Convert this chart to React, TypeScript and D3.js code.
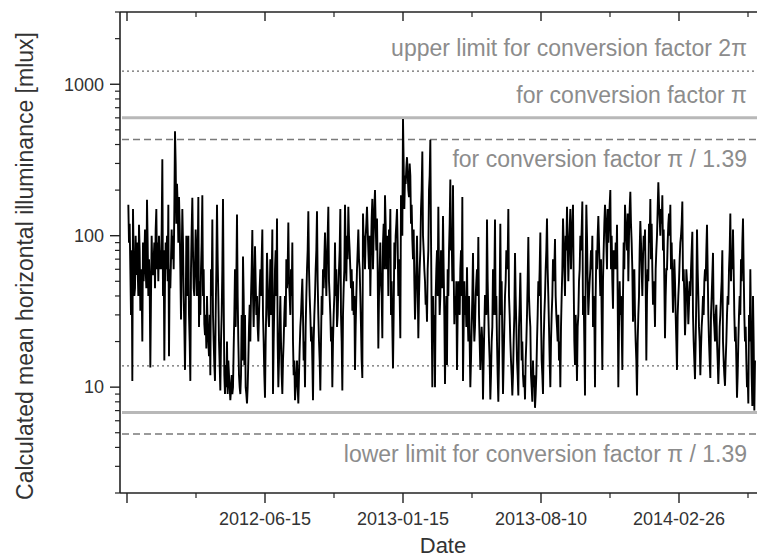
import React from "react";
import * as d3 from "d3";

// day offset (days after 2011-11-21) and calculated mean horizontal illuminance [mlux]
// peaks and troughs
const seriesPeaks: [number, number][] = [
  [2,160],[5,60],[8,11],[9,150],[12,45],[15,90],[18,118],[20,32],[23,20],[26,70],[30,173],[32,40],[35,13.5],[38,60],[41,90],[44,150],[47,50],[50,80],[53,320],[54,40],[56,15],[59,60],[62,160],[63,16],[66,70],[69,100],[72,490],[74,120],[75,220],[78,180],[81,28],[84,90],[87,13],[90,60],[92,100],[95,11],[98,178],[101,40],[104,80],[107,180],[108,25],[111,60],[113,185],[116,26],[119,18],[120,40],[122,20],[125,12],[128,128],[129,30],[132,11],[135,160],[137,40],[140,9.5],[143,60],[144,175],[147,9],[150,20],[153,12],[155,8.2],[158,9],[161,30],[165,138],[167,20],[170,9],[173,15],[174,73],[177,30],[180,7.8],[183,25],[188,109],[189,40],[192,85],[194,30],[197,20],[200,60],[203,110],[204,30],[207,8.5],[210,77],[213,25],[218,110],[219,9],[222,60],[225,130],[227,10],[230,40],[233,9],[236,30],[239,70],[242,122],[245,30],[248,90],[249,20],[252,8.2],[255,15],[257,7.8],[260,25],[263,52],[266,20],[267,10],[270,60],[272,145],[275,30],[278,15],[279,8.2],[282,40],[285,145],[287,30],[290,9.5],[293,30],[294,60],[297,105],[299,40],[302,155],[305,30],[308,10],[311,40],[312,90],[315,25],[318,60],[320,150],[321,30],[323,9.5],[326,60],[327,160],[329,50],[332,155],[335,60],[338,32],[341,40],[342,13],[345,60],[347,110],[350,40],[353,11.5],[354,140],[357,60],[360,155],[362,80],[365,40],[368,175],[369,60],[372,200],[374,80],[377,18],[380,90],[383,21],[386,60],[387,185],[390,80],[392,40],[395,150],[396,30],[399,13.3],[402,60],[405,150],[407,40],[410,21],[411,185],[413,100],[414,590],[416,150],[417,250],[420,330],[422,200],[425,250],[426,120],[428,94],[431,50],[432,28],[434,60],[435,100],[437,21],[440,80],[443,360],[444,100],[447,50],[450,27],[452,80],[455,430],[456,100],[458,10],[459,40],[462,10],[464,60],[467,155],[470,40],[471,80],[474,135],[476,30],[477,10.5],[480,14],[482,40],[485,235],[486,80],[489,215],[491,26],[494,50],[495,13],[498,40],[501,80],[503,180],[504,11],[507,30],[510,62],[512,20],[515,10],[518,40],[519,77],[522,25],[524,50],[527,98],[528,30],[530,13],[533,20],[534,8.3],[537,40],[540,128],[542,30],[545,8.3],[548,25],[549,60],[552,128],[554,40],[557,8],[560,120],[561,30],[564,9],[567,40],[569,80],[572,150],[573,40],[576,15],[578,8.8],[581,30],[582,77],[584,25],[587,8.8],[588,25],[590,57],[593,20],[594,12],[597,8.3],[600,30],[602,98],[605,25],[608,8],[609,15],[612,7.3],[615,20],[617,50],[620,105],[621,30],[624,9],[627,40],[630,130],[632,40],[635,10],[638,40],[639,70],[642,95],[645,25],[648,15],[650,10],[653,60],[654,130],[657,40],[660,155],[662,50],[665,150],[666,60],[669,160],[671,20],[672,14],[675,11],[678,50],[680,100],[683,168],[684,30],[687,8.8],[689,160],[692,30],[695,60],[698,100],[699,25],[702,10],[705,60],[707,135],[710,40],[713,13],[714,50],[717,160],[720,60],[722,90],[725,200],[726,60],[729,33],[732,60],[735,118],[737,10],[740,30],[743,13],[746,60],[747,160],[750,80],[752,50],[755,195],[758,60],[759,27],[762,30],[765,8.8],[768,40],[770,125],[773,40],[774,70],[777,110],[779,15],[782,50],[785,175],[786,70],[789,35],[792,25],[795,100],[797,225],[800,100],[803,185],[804,80],[807,21],[810,60],[812,120],[815,160],[816,60],[819,31],[822,50],[825,13],[828,50],[831,100],[833,168],[834,50],[837,22],[840,50],[842,26],[845,40],[848,106],[849,30],[852,11.3],[854,40],[855,110],[857,40],[860,12],[863,30],[866,50],[869,80],[870,118],[872,30],[875,11.5],[876,30],[879,77],[882,20],[884,35],[887,10.5],[890,30],[893,80],[894,20],[897,10.2],[900,30],[903,60],[905,140],[906,50],[909,110],[911,30],[914,15],[915,8.5],[918,30],[921,70],[924,130],[926,30],[929,15],[932,7.8],[933,30],[935,60],[938,7.5],[939,40],[941,7],[942,15]
];

const seriesBand: [number, number][] = [
  [3,90],[4,120],[6,30],[7,80],[10,70],[11,40],[13,100],[14,55],[16,60],[17,40],[19,80],[21,60],[22,45],[24,90],[25,50],[27,110],[28,60],[29,45],[31,90],[33,70],[34,50],[36,40],[37,100],[39,55],[40,70],[42,45],[43,110],[45,60],[46,90],[48,100],[49,60],[51,60],[52,110],[55,80],[57,50],[58,90],[60,100],[61,50],[64,60],[65,45],[67,110],[68,70],[70,60],[71,150],
  [73,300],[76,160],[77,90],[79,120],[80,60],[82,70],[83,150],[85,40],[86,25],[88,30],[89,100],[91,40],[93,30],[94,20],[96,60],[97,110],[99,80],[100,45],[102,60],[103,110],[105,40],[106,70],
  [109,50],[110,30],[112,90],[114,40],[115,60],[117,22],[118,30],[121,25],[123,16],[124,30],[126,60],[127,40],[130,20],[131,14],[133,30],[134,60],[136,70],[138,20],[139,14],
  [141,20],[142,30],[145,40],[146,12],[148,14],[149,10],[151,9],[152,15],[154,10],[156,9.5],[157,12],[159,10],[160,18],[162,60],[163,25],[164,50],[166,40],[168,12],[169,10],[171,12],[172,30],[175,40],[176,14],[178,10],[179,9],[181,10],[182,15],[184,35],[185,20],[186,40],[187,60],[190,25],[191,45],[193,50],[195,40],[196,25],[198,30],[199,45],
  [201,40],[202,70],[205,20],[206,12],[208,20],[209,35],[211,50],[212,30],[214,40],[215,70],[216,30],[217,50],[220,20],[221,35],[223,80],[224,40],[226,20],[228,15],[229,25],[231,20],[232,12],[234,15],[235,20],[237,40],[238,25],[240,45],[241,60],[243,50],[244,40],[246,60],[247,40],[250,12],[251,15],[253,10],[254,12],[256,10],[258,12],[259,18],
  [261,30],[262,40],[264,30],[265,15],[268,25],[269,40],[271,80],[273,60],[274,40],[276,20],[277,25],[280,20],[281,30],[283,60],[284,80],[286,50],[288,20],[289,15],[291,20],[292,40],[295,45],[296,70],[298,60],[300,70],[301,100],[303,50],[304,40],[306,20],[307,25],[309,20],[310,30],[313,40],[314,60],[316,30],[317,45],[319,80],[322,20],[324,30],[325,45],[328,80],
  [330,100],[331,70],[333,100],[334,80],[336,45],[337,60],[339,50],[340,30],[343,25],[344,40],[346,80],[348,70],[349,60],[351,25],[352,15],[355,90],[356,100],[358,100],[359,120],[361,110],[363,60],[364,100],[366,80],[367,130],[370,100],[371,150],[373,120],[375,130],[376,60],[378,40],[379,60],[381,50],[382,40],[384,90],[385,120],[388,120],[389,60],[391,100],[393,110],[394,80],[397,50],[398,25],
  [400,30],[401,90],[403,100],[404,120],[406,90],[408,70],[409,40],[412,130],[415,300],[418,220],[419,280],[421,260],[423,180],[424,300],[427,160],[429,70],[430,110],[433,40],
  [436,50],[438,40],[439,60],[441,150],[442,200],[445,80],[446,60],[448,35],[449,40],[451,60],[453,200],[454,250],[457,30],[460,20],[461,30],[463,40],[465,80],[466,40],[468,60],[469,30],
  [472,60],[473,45],[475,60],[478,25],[479,40],[481,60],[483,80],[484,120],[487,100],[488,50],[490,60],[492,40],[493,30],[496,30],[497,50],[499,30],[500,60],[502,40],[505,25],[506,50],[508,40],[509,25],[511,30],[513,40],[514,20],[516,15],[517,25],[520,30],[521,20],[523,40],[525,60],[526,40],[529,20],[531,18],[532,25],[535,15],[536,25],[538,40],[539,30],[541,50],[543,20],[544,15],[546,12],[547,20],[550,30],[551,50],[553,30],[555,20],[556,12],[558,15],[559,40],
  [562,50],[563,20],[565,15],[566,25],[568,50],[570,60],[571,70],[574,30],[575,20],[577,12],[579,12],[580,20],[583,40],[585,15],[586,12],[589,35],[591,30],[592,15],[595,10],[596,12],[598,15],[599,20],[601,50],[603,40],[604,30],[606,12],[607,10],[610,10],[611,12],[613,9],[614,12],[616,30],[618,40],[619,60],[622,15],[623,12],[625,20],[626,30],[628,60],[629,80],[631,60],[633,25],[634,15],[636,20],[637,30],
  [640,50],[641,60],[643,40],[644,30],[646,20],[647,30],[649,20],[651,25],[652,40],[655,90],[656,60],[658,100],[659,80],[661,90],[663,80],[664,110],[667,100],[668,120],[670,50],[673,30],[674,20],[676,25],[677,30],[679,60],[681,80],[682,110],[685,40],[686,20],[688,60],[690,100],[691,50],[693,40],[694,50],[696,80],[697,60],[700,40],
  [701,30],[703,40],[704,80],[706,100],[708,90],[709,60],[711,70],[712,30],[715,80],[716,120],[718,130],[719,90],[721,150],[723,120],[724,160],[727,100],[728,50],[730,80],[731,70],[733,90],[734,60],[736,40],[738,25],[739,50],[741,40],[742,25],[744,40],[745,90],[748,120],[749,100],[751,140],[753,100],[754,150],[756,120],[757,90],[760,50],[761,60],[763,20],[764,15],[766,20],[767,30],[769,80],[771,90],[772,60],[775,100],[776,80],[778,50],[780,40],[781,60],[783,120],[784,90],[787,120],[788,60],[790,50],[791,40],[793,60],[794,80],[796,150],[798,160],[799,130],[801,150],[802,120],[805,110],[806,50],[808,40],[809,60],[811,90],[813,140],[814,100],[817,90],[818,50],[820,50],[821,70],[823,30],[824,20],[826,30],[827,40],
  [829,70],[830,90],[832,120],[835,60],[836,40],[838,30],[839,60],[841,40],[843,35],[844,50],[846,60],[847,80],[850,20],[851,15],[853,20],[856,60],[858,25],[859,20],[861,18],[862,25],[864,40],[865,30],[867,60],[868,50],[871,60],[873,20],[874,15],[877,40],[878,55],[880,30],[881,25],[883,30],[885,20],[886,15],[888,15],[889,25],[891,40],[892,50],[895,15],[896,12],[898,15],[899,20],[901,40],[902,35],[904,80],[907,80],[908,60],[910,60],[912,20],[913,25],[916,12],[917,20],[919,40],[920,30],[922,50],[923,90],[925,60],[927,20],[928,25],[930,10],[931,12],[934,20],[936,25],[937,12],[940,20]
];

const xMajorTicks = [0, 207, 414, 621, 828];
const xMajorLabels = ["", "2012-06-15", "2013-01-15", "2013-08-10", "2014-02-26"];
const xMinorTicks = [103.5, 310.5, 517.5, 724.5, 931.5];
const yMajorTicks = [10, 100, 1000];
const yMajorLabels = ["10", "100", "1000"];

const refLevels = [1220, 600, 432, 13.8, 6.8, 4.9];
const refKinds = ["dotted", "solid", "dashed", "dotted", "solid", "dashed"];
const refLabels = [
  "upper limit for conversion factor 2\u03c0",
  "for conversion factor \u03c0",
  "for conversion factor \u03c0 / 1.39",
  "",
  "",
  "lower limit for conversion factor \u03c0 / 1.39",
];
const refLabelSide = ["above", "above", "below", "", "", "below"];

const W = 757, H = 560;
const L = 120, R = 790, T = 12, B = 493;
const FONT = "'Liberation Sans', Arial, Helvetica, sans-serif";

export default function App() {
  const x = d3.scaleLinear().domain([-10.5, 994.5]).range([L, R]);
  const y = d3.scaleLog().domain([2, 3000]).range([B, T]);
  const series = [...seriesPeaks, ...seriesBand].sort((a, b) => a[0] - b[0]);
  const line = d3
    .line<[number, number]>()
    .x((d) => x(d[0]))
    .y((d) => y(d[1]));
  const yMinor = y.ticks().filter((v) => !yMajorTicks.includes(v));

  const refStyle = (k: string) => {
    if (k === "solid") return { stroke: "#b8b8b8", strokeWidth: 3, dash: undefined };
    if (k === "dashed") return { stroke: "#7a7a7a", strokeWidth: 1.4, dash: "7,4" };
    return { stroke: "#6a6a6a", strokeWidth: 1.2, dash: "2,3" };
  };

  return (
    <svg
      width={W}
      height={H}
      style={{ position: "absolute", left: 0, top: 0, background: "#fff" }}
      fontFamily={FONT}
    >
      <defs>
        <clipPath id="plot">
          <rect x={L} y={T} width={R - L} height={B - T} />
        </clipPath>
      </defs>
      <rect x={0} y={0} width={W} height={H} fill="#fff" />

      {/* reference lines */}
      {refLevels.map((v, i) => {
        const s = refStyle(refKinds[i]);
        return (
          <line
            key={"r" + i}
            x1={L + 2}
            x2={R}
            y1={y(v)}
            y2={y(v)}
            stroke={s.stroke}
            strokeWidth={s.strokeWidth}
            strokeDasharray={s.dash}
          />
        );
      })}
      {refLabels.map((t, i) =>
        t ? (
          <text
            key={"rl" + i}
            x={747}
            y={y(refLevels[i]) + (refLabelSide[i] === "above" ? -15 : 28)}
            textAnchor="end"
            fontSize={23}
            fill="#8c8c8c"
          >
            {t}
          </text>
        ) : null
      )}

      {/* data */}
      <g clipPath="url(#plot)">
        <path d={line(series) || ""} fill="none" stroke="#000" strokeWidth={1.9} strokeLinejoin="miter" strokeMiterlimit={10} />
      </g>

      {/* axes frame */}
      <line x1={L} x2={L} y1={T} y2={B} stroke="#222" strokeWidth={1.6} />
      <line x1={L} x2={R} y1={B} y2={B} stroke="#222" strokeWidth={1.6} />
      <line x1={L} x2={R} y1={T} y2={T} stroke="#222" strokeWidth={1.6} />

      {/* y ticks */}
      {yMajorTicks.map((v, i) => (
        <g key={"ym" + i}>
          <line x1={L - 10} x2={L} y1={y(v)} y2={y(v)} stroke="#222" strokeWidth={1.4} />
          <text x={104} y={y(v)} dy="0.35em" textAnchor="end" fontSize={18} fill="#333">
            {yMajorLabels[i]}
          </text>
        </g>
      ))}
      {yMinor.map((v, i) => (
        <line key={"yn" + i} x1={L - 5} x2={L} y1={y(v)} y2={y(v)} stroke="#222" strokeWidth={1.2} />
      ))}

      {/* x ticks bottom and top */}
      {xMajorTicks.map((v, i) => (
        <g key={"xm" + i}>
          <line x1={x(v)} x2={x(v)} y1={B} y2={B + 10} stroke="#222" strokeWidth={1.4} />
          <line x1={x(v)} x2={x(v)} y1={T} y2={T + 9} stroke="#222" strokeWidth={1.4} />
          <text x={x(v)} y={525} textAnchor="middle" fontSize={18} fill="#333">
            {xMajorLabels[i]}
          </text>
        </g>
      ))}
      {xMinorTicks.map((v, i) => (
        <g key={"xn" + i}>
          <line x1={x(v)} x2={x(v)} y1={B} y2={B + 5} stroke="#222" strokeWidth={1.2} />
          <line x1={x(v)} x2={x(v)} y1={T} y2={T + 5} stroke="#222" strokeWidth={1.2} />
        </g>
      ))}

      {/* axis titles */}
      <text
        transform={`translate(33, 266) rotate(-90)`}
        textAnchor="middle"
        fontSize={23}
        fill="#333"
      >
        Calculated mean horizontal illuminance [mlux]
      </text>
      <text x={443} y={553} textAnchor="middle" fontSize={22} fill="#333">
        Date
      </text>
    </svg>
  );
}
